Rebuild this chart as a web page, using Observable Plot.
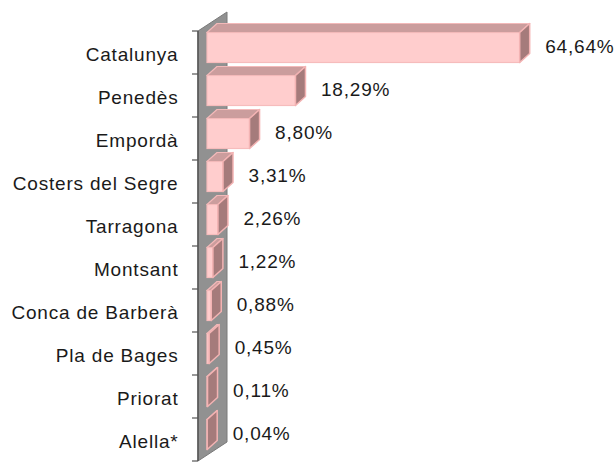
<!DOCTYPE html>
<html>
<head>
<meta charset="utf-8">
<script src="https://cdn.jsdelivr.net/npm/d3@7"></script>
<script src="https://cdn.jsdelivr.net/npm/@observablehq/plot@0.6"></script>
<style>
  html, body { margin: 0; padding: 0; background: #fff; }
  #chart svg text { letter-spacing: 0.8px; }
</style>
</head>
<body>
<div id="chart"></div>
<script>
const categories = ["Catalunya", "Penedès", "Empordà", "Costers del Segre", "Tarragona", "Montsant", "Conca de Barberà", "Pla de Bages", "Priorat", "Alella*"];
const values = [64.64, 18.29, 8.80, 3.31, 2.26, 1.22, 0.88, 0.45, 0.11, 0.04];

const data = categories.map((name, i) => ({name, value: values[i]}));
const fmt = v => v.toFixed(2).replace(".", ",") + "%";

const DX = 10, DY = 9;           // bar depth offset
const WDX = 29, WDY = 19;        // wall depth offset
const INSET_TOP = 1.5, INSET_BOTTOM = 11.5;

function bandwidthOf(y) {
  return typeof y.bandwidth === "function" ? y.bandwidth() : 43.5;
}

// side wall + axis line + ticks at band boundaries
const wallMark = (index, scales) => {
  const g = d3.create("svg:g");
  const y = scales.y, x = scales.x;
  const bw = bandwidthOf(y);
  const x0 = x(0) - 9;
  const top = y(categories[0]);
  const bottom = y(categories[categories.length - 1]) + bw;
  g.append("polygon")
    .attr("points", [[x0, top], [x0 + WDX, top - WDY], [x0 + WDX, bottom - WDY], [x0, bottom]].map(p => p.join(",")).join(" "))
    .attr("fill", "#919191")
    .attr("stroke", "#7a7a7a")
    .attr("stroke-width", 1);
  g.append("line")
    .attr("x1", x0).attr("x2", x0).attr("y1", top).attr("y2", bottom)
    .attr("stroke", "#555").attr("stroke-width", 1.5);
  categories.forEach(c => {
    const yy = y(c);
    g.append("line").attr("x1", x0 - 6).attr("x2", x0).attr("y1", yy).attr("y2", yy)
      .attr("stroke", "#555").attr("stroke-width", 1.2);
  });
  g.append("line").attr("x1", x0 - 6).attr("x2", x0).attr("y1", bottom).attr("y2", bottom)
    .attr("stroke", "#555").attr("stroke-width", 1.2);
  return g.node();
};

// 3D top and side faces
const depthMark = (index, scales) => {
  const g = d3.create("svg:g");
  const y = scales.y, x = scales.x;
  const bw = bandwidthOf(y);
  data.forEach(d => {
    const xa = x(0), xb = x(d.value);
    const yt = y(d.name) + INSET_TOP;
    const yb = y(d.name) + bw - INSET_BOTTOM;
    g.append("polygon")
      .attr("points", [[xa, yt], [xb, yt], [xb + DX, yt - DY], [xa + DX, yt - DY]].map(p => p.join(",")).join(" "))
      .attr("fill", "#cb9d9d").attr("stroke", "#f3b9b9").attr("stroke-width", 1.2).attr("stroke-linejoin", "round");
    g.append("polygon")
      .attr("points", [[xb, yt], [xb + DX, yt - DY], [xb + DX, yb - DY], [xb, yb]].map(p => p.join(",")).join(" "))
      .attr("fill", "#a57b7b").attr("stroke", "#f3b3b3").attr("stroke-width", 1.5).attr("stroke-linejoin", "round");
  });
  return g.node();
};

const chart = Plot.plot({
  width: 615,
  height: 465,
  marginLeft: 207,
  marginRight: 21,
  marginTop: 28,
  marginBottom: 2,
  style: {background: "#fff", fontFamily: "'Liberation Sans', Arial, sans-serif", overflow: "visible"},
  x: {domain: [0, 80], axis: null},
  y: {domain: categories, padding: 0, axis: null},
  marks: [
    wallMark,
    Plot.barX(data, {x: "value", y: "name", insetTop: INSET_TOP, insetBottom: INSET_BOTTOM, fill: "#ffcdcd", stroke: "#f6bcbc", strokeWidth: 1.2}),
    depthMark,
    Plot.text(data, {x: 0, y: "name", text: "name", textAnchor: "end", dx: -29, dy: 2, fontSize: 19, fill: "#1a1a1a"}),
    Plot.text(data, {x: "value", y: "name", text: d => fmt(d.value), textAnchor: "start", dx: 25, dy: -6, fontSize: 19, fill: "#1a1a1a"})
  ]
});
document.getElementById("chart").appendChild(chart);
</script>
</body>
</html>
